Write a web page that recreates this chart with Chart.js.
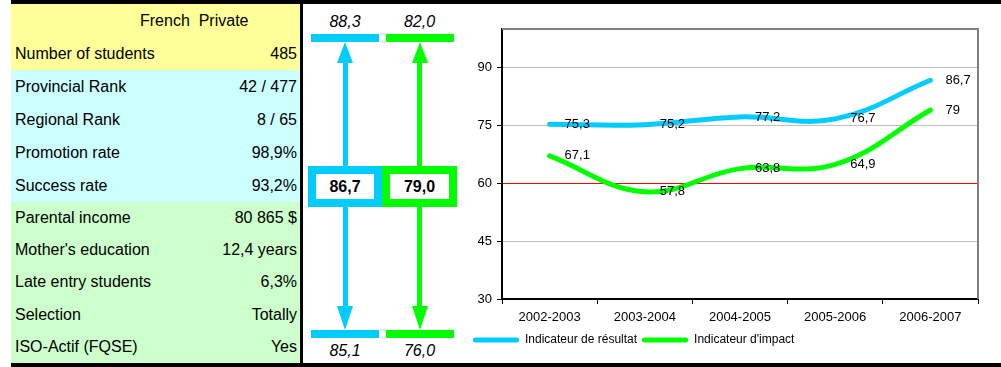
<!DOCTYPE html>
<html>
<head>
<meta charset="utf-8">
<script src="https://cdn.jsdelivr.net/npm/chart.js@4.4.0/dist/chart.umd.min.js"></script>
<style>
  html, body { margin: 0; padding: 0; background: #fff; }
  body { width: 1001px; height: 367px; position: relative; overflow: hidden;
         font-family: "Liberation Sans", Arial, sans-serif; color: #000; }
  .band { position: absolute; left: 11px; right: 0; height: 4px; background: #000; }
  #topBand { top: 0; }
  #bottomBand { top: 363px; }

  #tableau { position: absolute; left: 11px; top: 4px; width: 289px; }
  .row { display: flex; justify-content: space-between; align-items: center;
         box-sizing: border-box; padding: 0 3px 0 4px; font-size: 16px; white-space: pre; }
  .row.title { justify-content: flex-start; padding-left: 129px; }
  .yellow { background: #FFFF99; height: 33px; }
  .cyan { background: #CCFFFF; height: 33px; }
  .green { background: #CCFFCC; height: 32.2px; }
  #sep { position: absolute; left: 300px; top: 4px; width: 3px; height: 359px; background: #000; }

  #milieu { position: absolute; left: 308px; top: 4px; height: 359px; display: flex; }
  .col { display: flex; flex-direction: column; align-items: center; }
  .lbl { font-size: 16px; font-style: italic; text-align: center; }
  .lbl.top { height: 25px; line-height: 25px; padding-top: 5px; }
  .lbl.bottom { height: 25px; line-height: 25px; }
  .bar { width: 68px; height: 8px; }
  .head { width: 0; height: 0; border-left: 8px solid transparent; border-right: 8px solid transparent; }
  .shaft { width: 5px; }
  .box { box-sizing: border-box; height: 41px; border: 8px solid; background: #fff;
         font-size: 16px; font-weight: bold; text-align: center; line-height: 25px; }

  #chartBox { position: absolute; left: 463px; top: 4px; width: 538px; height: 359px; }
</style>
</head>
<body>
<div class="band" id="topBand"></div>
<div id="tableau"></div>
<div id="sep"></div>
<div id="milieu"></div>
<div id="chartBox"><canvas id="chartIndicateurs"></canvas></div>
<div class="band" id="bottomBand"></div>

<script>
// Données du tableau
const tableTitle = "French  Private";
const tableLabels = ["Number of students", "Provincial Rank", "Regional Rank", "Promotion rate", "Success rate",
    "Parental income", "Mother's education", "Late entry students", "Selection", "ISO-Actif (FQSE)"];
const tableValues = ["485", "42 / 477", "8 / 65", "98,9%", "93,2%",
    "80 865 $", "12,4 years", "6,3%", "Totally", "Yes"];

// Indicateurs (max, actuel, min)
const seriesNames = ["Indicateur de résultat", "Indicateur d'impact"];
const seriesColors = ["#00CCFF", "#00FF00"];
const indicMax = ["88,3", "82,0"];
const indicActuel = ["86,7", "79,0"];
const indicMin = ["85,1", "76,0"];

// Données du graphique
const years = ["2002-2003", "2003-2004", "2004-2005", "2005-2006", "2006-2007"];
const resultat = [75.3, 75.2, 77.2, 76.7, 86.7];
const impact = [67.1, 57.8, 63.8, 64.9, 79];
const yTicks = [30, 45, 60, 75, 90];
const yMin = 30;
const yMax = 100;
const seuil = 60;

document.addEventListener("DOMContentLoaded", () => {
    // 1. Tableau de gauche
    const tab = document.getElementById("tableau");
    const title = document.createElement("div");
    title.className = "row title yellow";
    title.textContent = tableTitle;
    tab.appendChild(title);
    tableLabels.forEach((lab, i) => {
        const row = document.createElement("div");
        row.className = "row " + (i < 1 ? "yellow" : i < 5 ? "cyan" : "green");
        const a = document.createElement("span");
        a.textContent = lab;
        const b = document.createElement("span");
        b.textContent = tableValues[i];
        row.appendChild(a);
        row.appendChild(b);
        tab.appendChild(row);
    });

    // 2. Flèches des indicateurs
    const mil = document.getElementById("milieu");
    seriesNames.forEach((name, i) => {
        const c = seriesColors[i];
        const col = document.createElement("div");
        col.className = "col";
        col.style.width = (i === 0 ? 74 : 75) + "px";
        col.innerHTML =
            `<div class="lbl top">${indicMax[i]}</div>` +
            `<div class="bar" style="background:${c}"></div>` +
            `<div class="head" style="border-bottom:21px solid ${c}"></div>` +
            `<div class="shaft" style="height:103px;background:${c}"></div>` +
            `<div class="box" style="width:${i === 0 ? 74 : 75}px;border-color:${c}">${indicActuel[i]}</div>` +
            `<div class="shaft" style="height:99px;background:${c}"></div>` +
            `<div class="head" style="border-top:24px solid ${c}"></div>` +
            `<div class="bar" style="background:${c}"></div>` +
            `<div class="lbl bottom">${indicMin[i]}</div>`;
        mil.appendChild(col);
    });

    // 3. Graphique
    Chart.defaults.font.family = '"Liberation Sans", Arial, sans-serif';
    Chart.defaults.color = "#000";

    const fmt = v => String(v).replace(".", ",");

    const cadre = {
        id: "cadre",
        beforeDatasetsDraw(chart) {
            const { ctx, chartArea: a } = chart;
            ctx.save();
            ctx.strokeStyle = "#808080";
            ctx.lineWidth = 2;
            ctx.beginPath();
            ctx.moveTo(a.left, a.top);
            ctx.lineTo(a.right, a.top);
            ctx.lineTo(a.right, a.bottom);
            ctx.stroke();
            ctx.restore();
        }
    };

    const etiquettes = {
        id: "etiquettes",
        afterDatasetsDraw(chart) {
            const ctx = chart.ctx;
            ctx.save();
            ctx.font = '13px "Liberation Sans", Arial, sans-serif';
            ctx.fillStyle = "#000";
            ctx.textAlign = "left";
            ctx.textBaseline = "middle";
            chart.data.datasets.forEach((ds, di) => {
                chart.getDatasetMeta(di).data.forEach((pt, j) => {
                    ctx.fillText(fmt(ds.data[j]), pt.x + 15, pt.y);
                });
            });
            ctx.restore();
        }
    };

    new Chart(document.getElementById("chartIndicateurs"), {
        type: "line",
        data: {
            labels: years,
            datasets: [
                { label: seriesNames[0], data: resultat, borderColor: seriesColors[0], backgroundColor: seriesColors[0],
                  borderWidth: 5, pointRadius: 0, tension: 0.4, borderCapStyle: "round" },
                { label: seriesNames[1], data: impact, borderColor: seriesColors[1], backgroundColor: seriesColors[1],
                  borderWidth: 5, pointRadius: 0, tension: 0.4, borderCapStyle: "round" }
            ]
        },
        options: {
            responsive: true,
            maintainAspectRatio: false,
            animation: false,
            layout: { padding: { left: 5, right: 23, top: 25, bottom: 7 } },
            scales: {
                x: {
                    offset: true,
                    grid: { offset: true, drawOnChartArea: false, tickLength: 5, tickColor: "#000" },
                    border: { color: "#000", width: 2 },
                    ticks: { font: { size: 13 }, padding: 6, maxRotation: 0, autoSkip: false },
                    afterFit: s => { s.height = 30; }
                },
                y: {
                    min: yMin,
                    max: yMax,
                    afterBuildTicks: s => { s.ticks = yTicks.map(v => ({ value: v })); },
                    grid: {
                        color: yTicks.map(v => (v === seuil ? "#FF0000" : "#C0C0C0")),
                        lineWidth: 1,
                        tickColor: "#000",
                        tickLength: 5
                    },
                    border: { color: "#000", width: 2 },
                    ticks: { font: { size: 13 }, padding: 5 },
                    afterFit: s => { s.width = 34; }
                }
            },
            plugins: {
                legend: {
                    position: "bottom",
                    align: "start",
                    labels: {
                        boxWidth: 46,
                        boxHeight: 5,
                        padding: 5,
                        font: { size: 12 },
                        useBorderRadius: true,
                        borderRadius: 2,
                        generateLabels: chart => Chart.defaults.plugins.legend.labels.generateLabels(chart)
                            .map(l => ({ ...l, lineWidth: 0, fillStyle: l.strokeStyle }))
                    }
                },
                tooltip: { enabled: false }
            }
        },
        plugins: [cadre, etiquettes]
    });
});
</script>
</body>
</html>
